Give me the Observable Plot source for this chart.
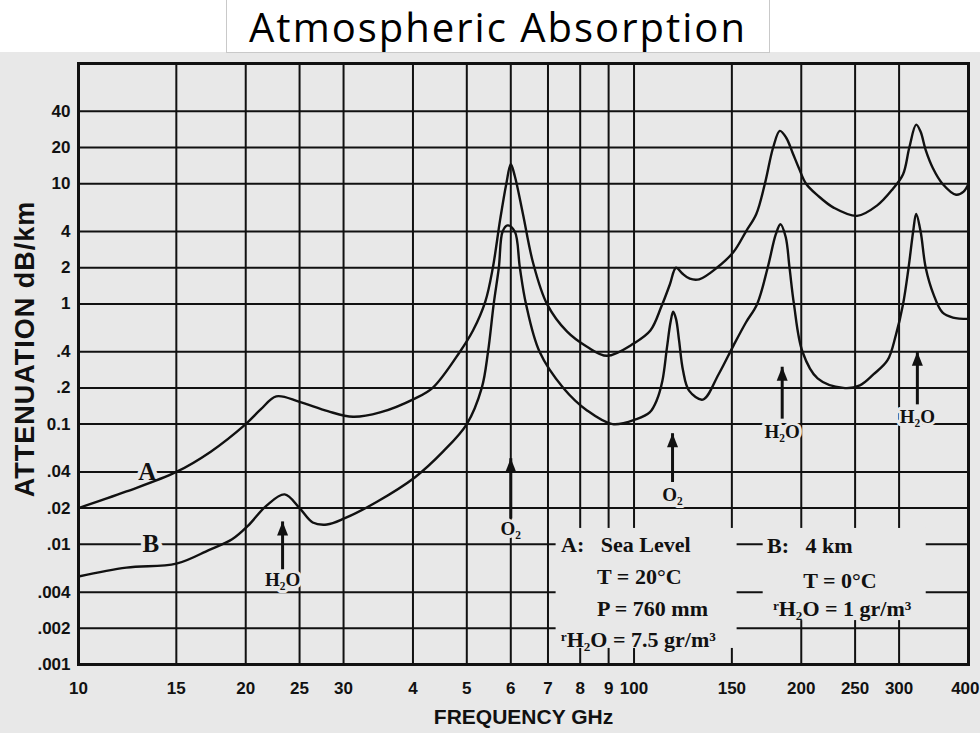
<!DOCTYPE html>
<html>
<head>
<meta charset="utf-8">
<script src="https://cdn.jsdelivr.net/npm/d3@7"></script>
<script src="https://cdn.jsdelivr.net/npm/@observablehq/plot@0.6"></script>
<style>
  html, body { margin: 0; padding: 0; background: #ffffff; }
  #wrap { position: relative; width: 980px; height: 733px; overflow: hidden; }
  #scan { position: absolute; left: 0; top: 52px; width: 980px; height: 681px; background: #e8e8e8; }
  #chart { position: absolute; left: 0; top: 0; }
  #title { position: absolute; left: 226px; top: -1px; width: 544px; height: 54px; background: #ffffff;
           border: 1px solid #c9c9c9; box-sizing: border-box; text-align: center;
           font-family: "Open Sans", sans-serif; font-size: 40px; line-height: 54px; color: #000;
           letter-spacing: 2px; z-index: 2; }
</style>
</head>
<body>
<div id="wrap">
  <div id="scan"></div>
  <div id="chart"></div>
  <div id="title">Atmospheric Absorption</div>
</div>
<script>
// ---- data ----
const freqA = [10, 12.2, 15, 17.3, 20, 21.3, 22.7, 25, 28.1, 31.2, 34.9, 40.3, 43.4, 48.6, 51.3, 54, 55.7, 57.4, 58.9, 60, 61, 63.1, 65.8, 69.7, 75.7, 82.3, 89.4, 100, 107, 112, 116, 119, 122, 126, 131, 141, 151, 159, 166, 172, 178, 183, 188, 193, 198, 204, 214, 229, 252, 274, 292, 305, 313, 322, 328, 335, 345, 359, 380, 392, 400];
const attenA = [0.02, 0.0275, 0.04, 0.059, 0.1, 0.133, 0.17, 0.153, 0.128, 0.115, 0.125, 0.163, 0.2, 0.4, 0.6, 1.05, 2.0, 5.0, 10, 14.5, 11.6, 5.6, 2.2, 1.0, 0.59, 0.44, 0.37, 0.47, 0.6, 0.95, 1.45, 2.0, 1.8, 1.62, 1.6, 2.0, 2.7, 4.0, 5.6, 10, 20, 27.5, 24, 18, 13.5, 10, 8, 6.3, 5.4, 6.6, 9, 12, 20, 31, 27, 19, 13.5, 10, 8.1, 8.6, 10];

const freqB = [10, 12.2, 15, 17.2, 18.9, 20.2, 21.8, 23.5, 25, 26.4, 28, 30.1, 34.4, 40.3, 45.3, 50, 53.2, 54.6, 55.9, 57.1, 58, 59.2, 61, 62.3, 63.9, 67.6, 74.6, 82.3, 91.5, 101, 106.7, 110, 112.5, 114.6, 116.3, 117.6, 119, 120.5, 122.5, 125.6, 133, 142, 151, 159, 166.6, 174, 180, 183.5, 187.5, 190.5, 194, 201, 214, 238, 255, 270, 286, 296, 305, 312, 318, 322, 328, 335, 346, 359, 375, 400];
const attenB = [0.0054, 0.0064, 0.0069, 0.009, 0.011, 0.0143, 0.021, 0.026, 0.02, 0.0152, 0.0146, 0.0164, 0.0225, 0.036, 0.059, 0.1, 0.2, 0.4, 1.0, 2.0, 4.0, 4.5, 4.0, 2.0, 1.0, 0.4, 0.2, 0.13, 0.1, 0.11, 0.125, 0.16, 0.23, 0.43, 0.7, 0.86, 0.75, 0.5, 0.28, 0.19, 0.16, 0.26, 0.45, 0.7, 1.0, 2.0, 3.8, 4.6, 3.6, 2.0, 1.0, 0.4, 0.24, 0.2, 0.21, 0.26, 0.34, 0.55, 1.0, 2.0, 4.0, 5.6, 4.0, 2.0, 1.2, 0.85, 0.77, 0.75];

const xTickValues = [10, 15, 20, 25, 30, 40, 50, 60, 70, 80, 90, 100, 150, 200, 250, 300, 400];
const xTickLabels = ["10", "15", "20", "25", "30", "4", "5", "6", "7", "8", "9", "100", "150", "200", "250", "300", "400"];
const yTickValues = [40, 20, 10, 4, 2, 1, 0.4, 0.2, 0.1, 0.04, 0.02, 0.01, 0.004, 0.002, 0.001];
const yTickLabels = ["40", "20", "10", "4", "2", "1", ".4", ".2", "0.1", ".04", ".02", ".01", ".004", ".002", ".001"];

// line annotations (absorption lines)
const arrowLabels = ["H₂O", "O₂", "O₂", "H₂O", "H₂O"];
const arrowFreq   = [23.3, 60, 117.3, 184.8, 323.6];
const arrowTip    = [0.0155, 0.052, 0.084, 0.30, 0.40];
const arrowBase   = [0.0062, 0.0164, 0.033, 0.111, 0.146];
const arrowLabelY = [0.0051, 0.0135, 0.026, 0.0867, 0.1156];

// series labels on the curves
const seriesNames = ["A", "B"];
const seriesLabelFreq = [13.3, 13.5];
const seriesLabelY = [0.04, 0.01];

// condition box text
const legendText = ["A:\u2002 Sea Level", "T = 20°C", "P = 760 mm", "ʳH₂O = 7.5 gr/m³", "B:\u2002 4 km", "T = 0°C", "ʳH₂O = 1 gr/m³"];
const legendFreq = [73.9, 85.8, 85.8, 73.9, 173.6, 201.6, 178.0];
const legendY    = [0.00995, 0.0054, 0.00292, 0.00161, 0.0096, 0.0050, 0.00292];

// white-out patches behind the condition text
const patchX1 = [72.4, 170.8];
const patchX2 = [153.3, 335.7];
const patchY1 = [0.00136, 0.00232];
const patchY2 = [0.01355, 0.01355];

// ---- build tables ----
const curves = [
  ...freqA.map((f, i) => ({series: "A", f, v: attenA[i]})),
  ...freqB.map((f, i) => ({series: "B", f, v: attenB[i]}))
];
const arrows = arrowLabels.map((label, i) => ({label, f: arrowFreq[i], tip: arrowTip[i], base: arrowBase[i], ly: arrowLabelY[i]}));
const seriesLabels = seriesNames.map((s, i) => ({s, f: seriesLabelFreq[i], v: seriesLabelY[i]}));
const legend = legendText.map((t, i) => ({t, f: legendFreq[i], v: legendY[i]}));
const patches = patchX1.map((x1, i) => ({x1, x2: patchX2[i], y1: patchY1[i], y2: patchY2[i]}));
const xTicks = xTickValues.map((v, i) => ({v, label: xTickLabels[i]}));
const yTicks = yTickValues.map((v, i) => ({v, label: yTickLabels[i]}));
const lastX = xTickValues[xTickValues.length - 1];

const bg = "#e8e8e8";
const ink = "#111";
const serif = "'Liberation Serif', 'Times New Roman', serif";
const sans = "'Liberation Sans', Arial, sans-serif";

const arrowHead = {
  draw(ctx) {
    ctx.moveTo(0, 0);
    ctx.lineTo(-5.5, 14);
    ctx.lineTo(5.5, 14);
    ctx.closePath();
  }
};

const chart = Plot.plot({
  width: 980,
  height: 733,
  marginLeft: 78,
  marginRight: 12,
  marginTop: 63,
  marginBottom: 69,
  style: {background: "transparent", color: ink},
  x: {type: "log", domain: [10, 400], axis: null},
  y: {type: "log", domain: [0.001, 100], axis: null},
  marks: [
    Plot.ruleX(xTickValues, {stroke: ink, strokeWidth: 2}),
    Plot.ruleY(yTickValues, {stroke: ink, strokeWidth: 2}),
    Plot.rect(patches, {x1: "x1", x2: "x2", y1: "y1", y2: "y2", fill: bg}),
    Plot.text(seriesLabels, {x: "f", y: "v", text: "s", fontFamily: serif, fontWeight: "bold", fontSize: 25,
      fill: ink, stroke: bg, strokeWidth: 8, paintOrder: "stroke"}),
    Plot.text(arrows, {x: "f", y: "ly", text: "label", fontFamily: serif, fontWeight: "bold", fontSize: 19,
      fill: ink, stroke: bg, strokeWidth: 6, paintOrder: "stroke"}),
    Plot.link(arrows, {x1: "f", x2: "f", y1: "base", y2: "tip", stroke: ink, strokeWidth: 3}),
    Plot.dot(arrows, {x: "f", y: "tip", symbol: arrowHead, fill: ink, stroke: null, r: 5}),
    Plot.text(legend, {x: "f", y: "v", text: "t", textAnchor: "start", fontFamily: serif, fontWeight: "bold",
      fontSize: 22, fill: ink}),
    Plot.line(curves, {x: "f", y: "v", z: "series", curve: "catmull-rom", stroke: ink, strokeWidth: 2.4}),
    Plot.frame({stroke: ink, strokeWidth: 3}),
    // x tick labels
    Plot.text(xTicks.filter(d => d.v < lastX), {x: "v", text: "label", frameAnchor: "bottom", lineAnchor: "middle",
      dy: 24, fontSize: 17, fontWeight: "bold", fontFamily: sans, fill: ink}),
    Plot.text(xTicks.filter(d => d.v === lastX), {x: "v", text: "label", frameAnchor: "bottom", lineAnchor: "middle",
      textAnchor: "end", dx: 11, dy: 24, fontSize: 17, fontWeight: "bold", fontFamily: sans, fill: ink}),
    // y tick labels
    Plot.text(yTicks, {y: "v", text: "label", frameAnchor: "left", textAnchor: "end", lineAnchor: "middle",
      dx: -8, fontSize: 17, fontWeight: "bold", fontFamily: sans, fill: ink}),
    Plot.text(["FREQUENCY GHz"], {frameAnchor: "bottom", lineAnchor: "middle", dy: 53, fontSize: 21,
      fontWeight: "bold", fontFamily: sans, fill: ink}),
    Plot.text(["ATTENUATION dB/km"], {frameAnchor: "left", textAnchor: "middle", lineAnchor: "middle", rotate: -90,
      dx: -53, dy: -15, fontSize: 27, fontWeight: "bold", fontFamily: sans, fill: ink})
  ]
});
d3.select(chart).selectAll("text").filter(function() { return this.textContent === "ATTENUATION dB/km"; })
  .style("letter-spacing", "1px");
document.getElementById("chart").appendChild(chart);
</script>
</body>
</html>
